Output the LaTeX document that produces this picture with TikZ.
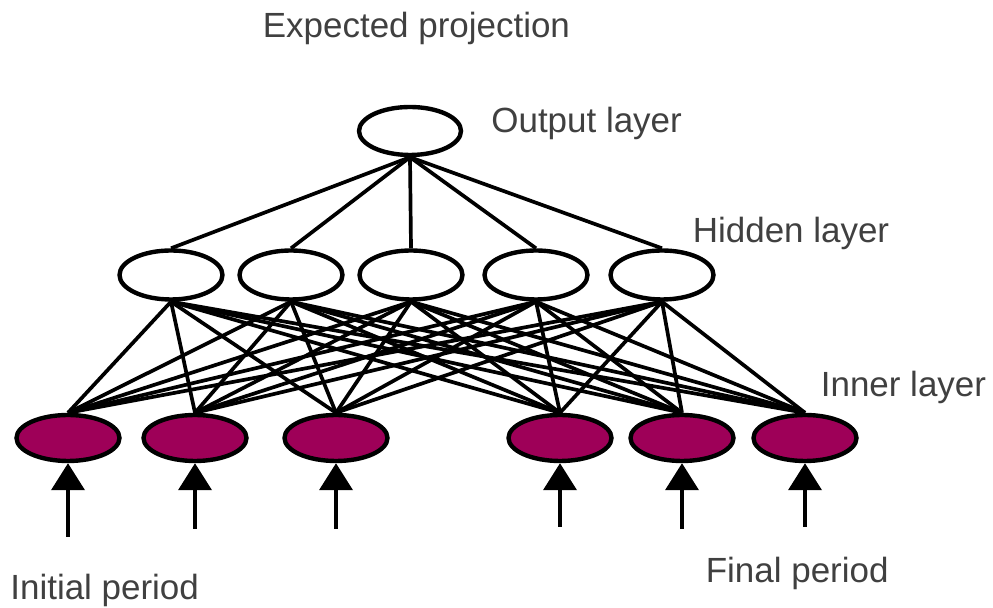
\documentclass[tikz,border=0pt]{standalone}
\usepackage{fontspec}
\setmainfont{Liberation Sans}
\usetikzlibrary{shapes.geometric, arrows.meta}
\definecolor{plum}{RGB}{158,0,88}
\definecolor{txtgray}{RGB}{64,64,64}

\begin{document}
\begin{tikzpicture}[
    unit/.style={ellipse, draw, line width=2.5pt, fill=white, minimum width=2.06cm, minimum height=0.98cm, inner sep=0pt},
    inp/.style={unit, fill=plum, minimum height=0.92cm},
    link/.style={line width=2.1pt},
    feed/.style={line width=2.2pt, -{Triangle[width=0.66cm, length=0.54cm]}},
    lbl/.style={anchor=base west, inner sep=0pt, text=txtgray, font=\fontsize{19.9pt}{24pt}\selectfont}
  ]
  \useasboundingbox (0,0) rectangle (19.86,12.16);

  % Output layer
  \node[unit, minimum width=2.04cm, minimum height=0.96cm] (out) at (8.2,9.54) {};

  % Hidden layer
  \node[unit] (h1) at (3.42,6.66) {};
  \node[unit] (h2) at (5.82,6.66) {};
  \node[unit] (h3) at (8.22,6.66) {};
  \node[unit] (h4) at (10.72,6.66) {};
  \node[unit] (h5) at (13.24,6.66) {};

  % Inner layer
  \node[inp] (in1) at (1.36,3.4) {};
  \node[inp] (in2) at (3.9,3.4) {};
  \node[inp] (in3) at (6.72,3.4) {};
  \node[inp] (in4) at (11.2,3.4) {};
  \node[inp] (in5) at (13.64,3.4) {};
  \node[inp] (in6) at (16.1,3.4) {};

  % Connections
  \foreach \h in {1,...,5} {
    \draw[link] (out.south) -- (h\h.north);
    \foreach \i in {1,...,6}
      \draw[link] (h\h.south) -- (in\i.north);
  }

  % Input arrows
  \coordinate (s1) at (1.36,1.42);
  \coordinate (s2) at (3.9,1.58);
  \coordinate (s3) at (6.72,1.58);
  \coordinate (s4) at (11.2,1.62);
  \coordinate (s5) at (13.64,1.58);
  \coordinate (s6) at (16.1,1.62);
  \foreach \i in {1,...,6}
    \draw[feed] (s\i) -- (in\i.south);

  % Labels
  \node[lbl] (tExp) at (5.25,11.40) {Expected projection};
  \node[lbl] (tOut) at (9.82,9.50) {Output layer};
  \node[lbl] (tHid) at (13.85,7.30) {Hidden layer};
  \node[lbl] (tInn) at (16.41,4.22) {Inner layer};
  \node[lbl] (tIni) at (0.2,0.16) {Initial period};
  \node[lbl] (tFin) at (14.11,0.50) {Final period};
\end{tikzpicture}
\end{document}
